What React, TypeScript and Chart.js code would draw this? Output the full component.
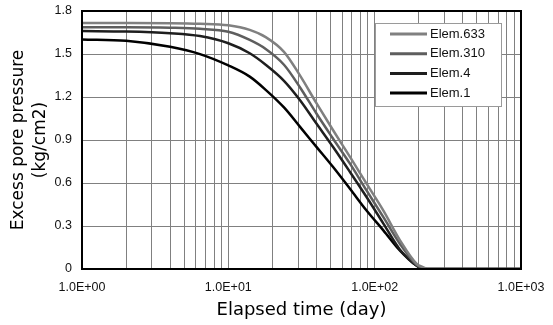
import React, { useEffect, useRef } from 'react';
import { Chart, registerables } from 'chart.js';

Chart.register(...registerables);

// Elapsed time (day) – shared sample times
const timeDays = [1, 2, 4, 6.4, 10, 14, 18, 24, 31, 40, 52, 68, 88, 115, 149, 194, 215, 230, 1000];

// Excess pore pressure (kg/cm2) per element
const elem633 = [1.716, 1.716, 1.715, 1.711, 1.700, 1.668, 1.618, 1.515, 1.347, 1.157, 0.968, 0.780, 0.595, 0.405, 0.200, 0.035, 0.012, 0, 0];
const elem310 = [1.686, 1.686, 1.683, 1.676, 1.655, 1.598, 1.535, 1.425, 1.265, 1.085, 0.909, 0.733, 0.548, 0.360, 0.175, 0.028, 0.007, 0, 0];
const elem4 = [1.660, 1.657, 1.645, 1.625, 1.575, 1.505, 1.425, 1.313, 1.176, 1.015, 0.851, 0.675, 0.502, 0.315, 0.135, 0.022, 0.002, 0, 0];
const elem1 = [1.602, 1.592, 1.550, 1.499, 1.420, 1.342, 1.250, 1.127, 0.990, 0.852, 0.711, 0.558, 0.408, 0.268, 0.128, 0.023, 0, 0, 0];

const seriesLabels = ['Elem.633', 'Elem.310', 'Elem.4', 'Elem.1'];
const seriesValues = [elem633, elem310, elem4, elem1];
const seriesColors = ['#808080', '#5e5e5e', '#1e1e1e', '#000000'];

// Axis ticks
const xDecades = [1, 10, 100, 1000];
const xTickLabels = ['1.0E+00', '1.0E+01', '1.0E+02', '1.0E+03'];
const xMinorSteps = [1, 2, 3, 4, 5, 6, 7, 8, 9];
const yTickValues = [0, 0.3, 0.6, 0.9, 1.2, 1.5, 1.8];
const yTickLabels = ['0', '0.3', '0.6', '0.9', '1.2', '1.5', '1.8'];

const tickFont = { family: '"Liberation Sans", Arial, sans-serif', size: 12.5 };
const titleFontFamily = '"DejaVu Sans", sans-serif';

const framePlugin = {
  id: 'frameAndLegend',
  afterDraw(chart: any) {
    const { ctx, chartArea } = chart;
    ctx.save();
    // plot frame
    ctx.strokeStyle = '#000';
    ctx.lineWidth = 2;
    ctx.strokeRect(chartArea.left, chartArea.top, chartArea.right - chartArea.left, chartArea.bottom - chartArea.top);
    // legend box inside plot
    const boxW = 126;
    const boxH = 83;
    const left = chartArea.right - 146;
    const top = chartArea.top + 12;
    ctx.fillStyle = '#ffffff';
    ctx.fillRect(left, top, boxW, boxH);
    ctx.strokeStyle = '#9a9a9a';
    ctx.lineWidth = 1;
    ctx.strokeRect(left + 0.5, top + 0.5, boxW, boxH);
    ctx.font = '13px "Liberation Sans", Arial, sans-serif';
    ctx.textBaseline = 'middle';
    ctx.textAlign = 'left';
    chart.data.datasets.forEach((ds: any, i: number) => {
      const y = top + 11 + i * 19.7;
      ctx.strokeStyle = ds.borderColor;
      ctx.lineWidth = 3;
      ctx.beginPath();
      ctx.moveTo(left + 15, y);
      ctx.lineTo(left + 52, y);
      ctx.stroke();
      ctx.fillStyle = '#111';
      ctx.fillText(ds.label, left + 55, y);
    });
    ctx.restore();
  },
};

export default function App() {
  const canvasRef = useRef<HTMLCanvasElement | null>(null);

  useEffect(() => {
    const canvas = canvasRef.current;
    if (!canvas) return;
    const datasets = seriesValues.map((vals, i) => ({
      label: seriesLabels[i],
      data: timeDays.map((t, j) => ({ x: t, y: vals[j] })),
      borderColor: seriesColors[i],
      backgroundColor: seriesColors[i],
      borderWidth: 2.5,
      pointRadius: 0,
      cubicInterpolationMode: 'monotone' as const,
      fill: false,
    }));

    const chart = new Chart(canvas, {
      type: 'line',
      data: { datasets },
      plugins: [framePlugin],
      options: {
        animation: false,
        responsive: false,
        devicePixelRatio: 1,
        layout: { padding: { top: 11, right: 32, bottom: 0, left: 0 } },
        plugins: {
          legend: { display: false },
          tooltip: { enabled: false },
        },
        scales: {
          x: {
            type: 'logarithmic',
            min: 1,
            max: 1000,
            afterBuildTicks: (scale: any) => {
              const ticks: any[] = [];
              xDecades.forEach((d, di) => {
                if (di === xDecades.length - 1) {
                  ticks.push({ value: d });
                } else {
                  xMinorSteps.forEach((m) => ticks.push({ value: d * m }));
                }
              });
              scale.ticks = ticks;
            },
            afterFit: (scale: any) => {
              scale.height = 56;
              scale.paddingLeft = 0;
              scale.paddingRight = 0;
            },
            ticks: {
              autoSkip: false,
              maxRotation: 0,
              minRotation: 0,
              padding: 11.5,
              color: '#111',
              font: tickFont,
              callback: (value: any) => {
                const idx = xDecades.indexOf(Number(value));
                return idx >= 0 ? xTickLabels[idx] : '';
              },
            },
            grid: { color: '#808080', lineWidth: 1, drawTicks: false },
            border: { display: false },
            title: {
              display: true,
              text: 'Elapsed time (day)',
              color: '#000',
              font: { family: titleFontFamily, size: 18, lineHeight: 1.2 },
              padding: { top: 0, bottom: 4 },
            },
          },
          y: {
            type: 'linear',
            min: 0,
            max: 1.8,
            afterBuildTicks: (scale: any) => {
              scale.ticks = yTickValues.map((v) => ({ value: v }));
            },
            afterFit: (scale: any) => {
              scale.width = 82;
              scale.paddingTop = 0;
              scale.paddingBottom = 0;
            },
            ticks: {
              padding: 10,
              color: '#111',
              font: tickFont,
              callback: (value: any) => {
                const idx = yTickValues.findIndex((v) => Math.abs(v - Number(value)) < 1e-9);
                return idx >= 0 ? yTickLabels[idx] : '';
              },
            },
            grid: { color: '#808080', lineWidth: 1, drawTicks: false },
            border: { display: false },
            title: {
              display: true,
              text: ['Excess pore pressure', '(kg/cm2)'],
              color: '#000',
              font: { family: titleFontFamily, size: 17, lineHeight: '22px' },
              padding: { top: 8, bottom: 0 },
            },
          },
        },
      },
    });
    return () => chart.destroy();
  }, []);

  return (
    <div style={{ position: 'fixed', left: 0, top: 0, width: 553, height: 325, background: '#fff' }}>
      <canvas ref={canvasRef} width={553} height={325} style={{ display: 'block', width: 553, height: 325 }} />
    </div>
  );
}
